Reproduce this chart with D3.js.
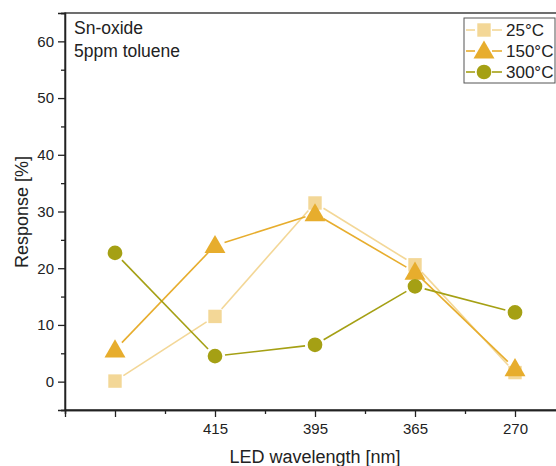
<!DOCTYPE html>
<html>
<head>
<meta charset="utf-8">
<script src="https://cdn.jsdelivr.net/npm/d3@7"></script>
<style>
  body { margin: 0; background: #fff; }
  svg text { font-family: "Liberation Sans", Arial, sans-serif; fill: #222; }
</style>
</head>
<body>
<div id="chart"></div>
<script>
const w = 556;
const h = 466;
const categories = ["", "415", "395", "365", "270"];
const series = ["25°C", "150°C", "300°C"];
const resp25 = [0.1, 11.5, 31.5, 20.6, 1.6];
const resp150 = [5.6, 24.0, 29.6, 19.3, 2.3];
const resp300 = [22.7, 4.5, 6.5, 16.8, 12.2];
const yTicks = [0, 10, 20, 30, 40, 50, 60];
const colors = ["#f3d797", "#e7ad2d", "#a5a014"];
const shapes = [d3.symbolSquare, d3.symbolTriangle, d3.symbolCircle];
const sizes = [180, 190, 170];

const plotLeft = 65, plotTop = 13, plotBottom = 410, plotRight = 565;

const x = d3.scaleLinear().domain([-0.5, 4.5]).range([plotLeft, plotRight]);
const y = d3.scaleLinear().domain([-5, 65]).range([plotBottom, plotTop]);

const svg = d3.select("#chart").append("svg")
    .attr("width", w).attr("height", h);

// frame
svg.append("rect")
    .attr("x", plotLeft).attr("y", plotTop)
    .attr("width", plotRight - plotLeft).attr("height", plotBottom - plotTop)
    .attr("fill", "none").attr("stroke", "#222").attr("stroke-width", 1.3);

// y axis
svg.append("g")
    .attr("transform", "translate(" + plotLeft + ",0)")
    .call(d3.axisLeft(y).tickValues(yTicks).tickSize(7).tickPadding(4).tickFormat(d3.format("d")));
svg.append("g")
    .attr("transform", "translate(" + plotLeft + ",0)")
    .call(d3.axisLeft(y).tickValues(d3.range(-5, 66, 10)).tickSize(4).tickFormat(""));

// x axis
svg.append("g")
    .attr("transform", "translate(0," + plotBottom + ")")
    .call(d3.axisBottom(x).tickValues(d3.range(0, 5)).tickSize(7).tickPadding(6)
        .tickFormat(i => categories[i]));
svg.append("g")
    .attr("transform", "translate(0," + plotBottom + ")")
    .call(d3.axisBottom(x).tickValues(d3.range(-0.5, 4.6, 1)).tickSize(4).tickFormat(""));

svg.selectAll(".domain").attr("stroke", "#222").attr("stroke-width", 1.3);
svg.selectAll(".tick line").attr("stroke", "#222").attr("stroke-width", 1.3);
svg.selectAll(".tick text").style("font-size", "15px").attr("fill", "#222");

// axis titles
svg.append("text")
    .attr("transform", "rotate(-90)")
    .attr("x", -212).attr("y", 28)
    .attr("text-anchor", "middle")
    .style("font-size", "18px")
    .text("Response [%]");
svg.append("text")
    .attr("x", 315).attr("y", 463)
    .attr("text-anchor", "middle")
    .style("font-size", "18px")
    .text("LED wavelength [nm]");

// annotation
svg.append("text").attr("x", 74).attr("y", 34).style("font-size", "17.5px").text("Sn-oxide");
svg.append("text").attr("x", 74).attr("y", 57).style("font-size", "17.5px").text("5ppm toluene");

// lines with gaps around markers
const allData = [resp25, resp150, resp300];
const gap = 10;
allData.forEach(function(vals, s) {
    for (let i = 0; i < vals.length - 1; i++) {
        const x1 = x(i), y1 = y(vals[i]), x2 = x(i + 1), y2 = y(vals[i + 1]);
        const len = Math.hypot(x2 - x1, y2 - y1);
        const ux = (x2 - x1) / len, uy = (y2 - y1) / len;
        svg.append("line")
            .attr("x1", x1 + ux * gap).attr("y1", y1 + uy * gap)
            .attr("x2", x2 - ux * gap).attr("y2", y2 - uy * gap)
            .attr("stroke", colors[s]).attr("stroke-width", 1.6);
    }
});
allData.forEach(function(vals, s) {
    svg.selectAll(null).data(vals).enter().append("path")
        .attr("d", d3.symbol().type(shapes[s]).size(sizes[s]))
        .attr("transform", (d, i) => "translate(" + x(i) + "," + (y(d) + (s == 1 ? 1.5 : 0)) + ")")
        .attr("fill", colors[s]);
});

// legend
const lg = svg.append("g");
lg.append("rect")
    .attr("x", 464).attr("y", 18).attr("width", 91).attr("height", 65)
    .attr("fill", "#fff").attr("stroke", "#555").attr("stroke-width", 1);
series.forEach(function(name, s) {
    const ly = 30 + s * 21;
    lg.append("line").attr("x1", 466).attr("x2", 475).attr("y1", ly).attr("y2", ly)
        .attr("stroke", colors[s]).attr("stroke-width", 1.6);
    lg.append("line").attr("x1", 492).attr("x2", 502).attr("y1", ly).attr("y2", ly)
        .attr("stroke", colors[s]).attr("stroke-width", 1.6);
    lg.append("path")
        .attr("d", d3.symbol().type(shapes[s]).size(sizes[s]))
        .attr("transform", "translate(484," + (ly + (s == 1 ? 1.5 : 0)) + ")")
        .attr("fill", colors[s]);
    lg.append("text").attr("x", 506).attr("y", ly + 6)
        .style("font-size", "17px").text(name);
});
</script>
</body>
</html>
